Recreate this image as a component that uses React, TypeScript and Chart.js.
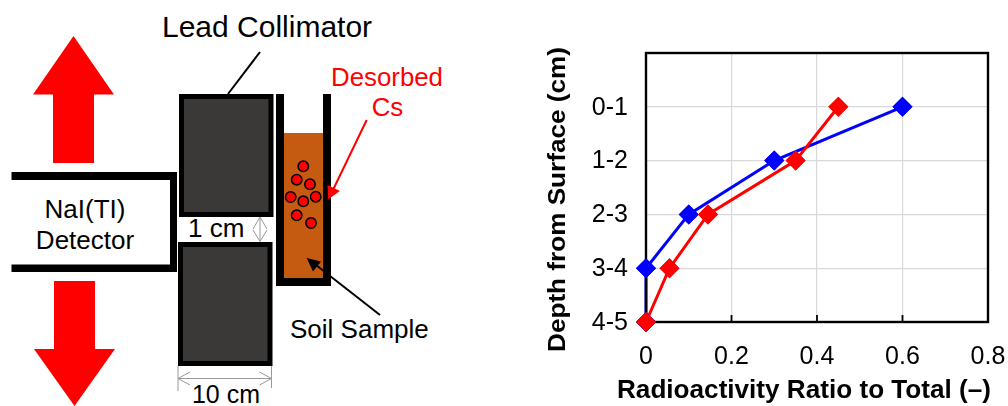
import React, { useEffect, useRef } from "react";
import { Chart, registerables } from "chart.js";

Chart.register(...registerables);

const depthLabels = ["", "0-1", "1-2", "2-3", "3-4", "4-5"];
const blueValues = [null, 0.6, 0.3, 0.1, 0, 0];
const redValues = [null, 0.45, 0.35, 0.145, 0.055, 0];
const xTickLabels: Record<string, string> = { "0": "0", "0.2": "0.2", "0.4": "0.4", "0.6": "0.6", "0.8": "0.8" };
const xAxisTitle = "Radioactivity Ratio to Total (–)";
const yAxisTitle = "Depth from Surface (cm)";
const FONT = "'Liberation Sans', Arial, sans-serif";

const frame = {
  id: "frame",
  afterDatasetsDraw(chart: any) {
    const { ctx, chartArea: a, scales } = chart;
    ctx.save();
    ctx.strokeStyle = "#000";
    ctx.lineWidth = 1.8;
    for (const v of [0.2, 0.4, 0.6]) {
      const x = scales.x.getPixelForValue(v);
      ctx.beginPath();
      ctx.moveTo(x, a.bottom);
      ctx.lineTo(x, a.bottom - 7);
      ctx.stroke();
    }
    ctx.lineWidth = 2.4;
    ctx.strokeRect(a.left, a.top, a.right - a.left, a.bottom - a.top);
    ctx.restore();
    // markers sit over the frame, red above blue
    chart.getSortedVisibleDatasetMetas().slice().reverse().forEach((m: any) => {
      m.data.forEach((p: any) => { if (!p.skip) p.draw(ctx); });
    });
  },
};

// The reference's axis titles are wider than the plot, which Chart.js's own
// axis titles cannot be, so they are drawn here on the chart's canvas.
const axisTitles = {
  id: "axisTitles",
  afterDraw(chart: any) {
    const { ctx } = chart;
    const draw = (s: string, size: number, cx: number, cy: number, length: number, rot: number) => {
      ctx.save();
      ctx.font = `bold ${size}px ${FONT}`;
      ctx.fillStyle = "#000";
      ctx.textAlign = "center";
      ctx.textBaseline = "middle";
      ctx.translate(cx, cy);
      ctx.rotate(rot);
      ctx.scale(length / ctx.measureText(s).width, 1);
      ctx.fillText(s, 0, 0);
      ctx.restore();
    };
    draw(xAxisTitle, 25, 264, 391, 374, 0);
    draw(yAxisTitle, 24, 18, 199.5, 305, -Math.PI / 2);
  },
};

function Diagram() {
  const text = { fontFamily: FONT, fill: "#000" } as const;
  const lines = { stroke: "#999", strokeWidth: 1, fill: "none" } as const;
  const particles = [
    [303.3, 166.3], [296.7, 179.7], [310, 184.3], [290.7, 197],
    [303.3, 201.3], [315.7, 196.7], [296.7, 215.3], [311, 223],
  ];
  return (
    <svg width={1008} height={406} style={{ position: "absolute", left: 0, top: 0 }}>
      <polygon points="73.5,36 114,94.5 94,94.5 94,163 53,163 53,94.5 33,94.5" fill="#f00" />
      <polygon points="74.5,406 115,349 95,349 95,281 54,281 54,349 34,349" fill="#f00" />

      <rect x={11.5} y={172} width={165.5} height={8} fill="#000" />
      <rect x={11.5} y={264.5} width={165.5} height={7.5} fill="#000" />
      <rect x={170} y={172} width={7} height={100} fill="#000" />

      <rect x={181.5} y={96.5} width={89.5} height={118} fill="#3b3838" stroke="#000" strokeWidth={5} />
      <rect x={180.5} y={244.5} width={89.5} height={119} fill="#3b3838" stroke="#000" strokeWidth={5} />

      <rect x={284} y={133} width={39} height={146} fill="#c55a11" />
      <rect x={276} y={94} width={8} height={192} fill="#000" />
      <rect x={323} y={94} width={8} height={192} fill="#000" />
      <rect x={276} y={278} width={55} height={8} fill="#000" />
      {particles.map(([cx, cy], i) => (
        <circle key={i} cx={cx} cy={cy} r={5.2} fill="#f00" stroke="#000" strokeWidth={1.5} />
      ))}

      <line x1={260} y1={52} x2={228} y2={94} stroke="#000" strokeWidth={2} />

      <line x1={366.7} y1={120} x2={332} y2={192} stroke="#f00" strokeWidth={2} />
      <polygon points="328,199.5 327.5,185 340,191" fill="#f00" />
      <line x1={380} y1={315} x2={316} y2={265} stroke="#000" strokeWidth={2} />
      <polygon points="306.7,258 321,261.5 313,271.5" fill="#000" />

      <path d="M253,229 L260,217 L267,229 M253,230 L260,241.5 L267,230 M260,218 L260,241" {...lines} />
      <path d="M178,366 L178,391 M271.5,366 L271.5,388 M178,378.5 L271.5,378.5" {...lines} />
      <path d="M190,372 L178,378.5 L190,385 M259.5,372 L271.5,378.5 L259.5,385" {...lines} />

      <text x={162} y={37} fontSize={30} {...text}>Lead Collimator</text>
      <text x={387} y={86} fontSize={25.8} textAnchor="middle" {...text} fill="#f00">Desorbed</text>
      <text x={387.5} y={116} fontSize={25.8} textAnchor="middle" {...text} fill="#f00">Cs</text>
      <text x={85} y={218} fontSize={26} textAnchor="middle" {...text}>NaI(TI)</text>
      <text x={85} y={249} fontSize={26} textAnchor="middle" {...text}>Detector</text>
      <text x={188} y={237} fontSize={26} {...text}>1 cm</text>
      <text x={290} y={338} fontSize={26} {...text}>Soil Sample</text>
      <text x={226} y={403} fontSize={25} textAnchor="middle" {...text}>10 cm</text>
    </svg>
  );
}

export default function App() {
  const ref = useRef<HTMLCanvasElement | null>(null);
  useEffect(() => {
    if (!ref.current) return;
    const chart = new Chart(ref.current, {
      type: "line",
      data: {
        labels: depthLabels,
        datasets: [
          {
            label: "Blue series", data: blueValues, borderColor: "#0000ff", backgroundColor: "#0000ff",
            order: 2, borderWidth: 3, pointStyle: "rectRot", pointRadius: 10, pointBorderWidth: 0, clip: false,
          },
          {
            label: "Red series", data: redValues, borderColor: "#ff0000", backgroundColor: "#ff0000",
            order: 1, borderWidth: 3, pointStyle: "rectRot", pointRadius: 10, pointBorderWidth: 0, clip: false,
          },
        ] as any,
      },
      options: {
        indexAxis: "y",
        responsive: false,
        animation: false,
        layout: { padding: { top: 53, right: 20, left: 0, bottom: 0 } },
        plugins: { legend: { display: false }, tooltip: { enabled: false } },
        scales: {
          x: {
            type: "linear", min: 0, max: 0.8,
            afterFit(s: any) { s.height = 84; s.paddingRight = 0; s.paddingLeft = 0; },
            border: { display: false },
            grid: { color: "#d9d9d9", lineWidth: 1.2, drawTicks: false },
            ticks: {
              stepSize: 0.2, padding: 20, color: "#000", maxRotation: 0, autoSkip: false,
              font: { family: FONT, size: 25 },
              callback: (v: any) => xTickLabels[String(Math.round(Number(v) * 10) / 10)] ?? "",
            },
          },
          y: {
            type: "category", offset: false,
            afterFit(s: any) { s.width = 106; s.paddingTop = 0; s.paddingBottom = 0; },
            border: { display: false },
            grid: { color: "#d9d9d9", lineWidth: 1.2, drawTicks: false },
            ticks: { padding: 18, labelOffset: 1, color: "#000", autoSkip: false, font: { family: FONT, size: 25 } },
          },
        },
      } as any,
      plugins: [frame, axisTitles],
    });
    return () => chart.destroy();
  }, []);
  return (
    <div style={{ position: "absolute", left: 0, top: 0, width: 1008, height: 406, background: "#fff", overflow: "hidden" }}>
      <Diagram />
      <canvas ref={ref} width={468} height={406} style={{ position: "absolute", left: 540, top: 0, display: "block" }} />
    </div>
  );
}
